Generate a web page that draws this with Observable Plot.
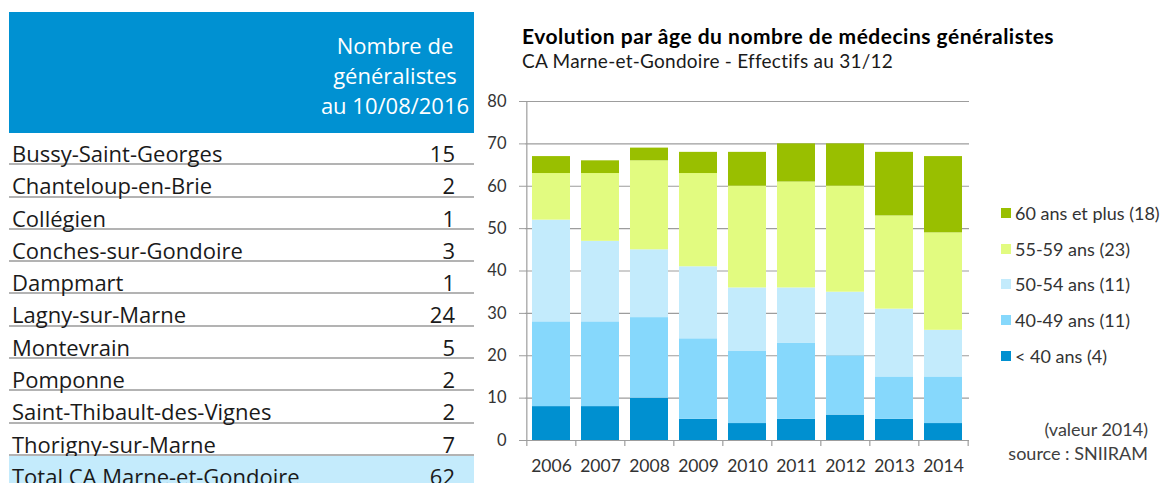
<!DOCTYPE html>
<html>
<head>
<meta charset="utf-8">
<script src="https://cdn.jsdelivr.net/npm/d3@7"></script>
<script src="https://cdn.jsdelivr.net/npm/@observablehq/plot@0.6"></script>
<style>
  html, body { margin:0; padding:0; background:#fff; }
  #page { position:relative; width:1163px; height:483px; overflow:hidden; background:#fff; }
  .abs { position:absolute; }
  #table { left:9px; top:12px; width:465px; font-family:"Open Sans", sans-serif; font-size:22px; color:#1a1a1a; }
  #thead { position:relative; height:121px; background:#0091d2; color:#fff; }
  #thead .txt { position:absolute; left:286px; width:200px; top:18px; text-align:center; line-height:30px; }
  .row { position:relative; height:32.3px; box-sizing:border-box; border-bottom:2px solid #b3b3b3; line-height:40px; white-space:nowrap; }
  .row .name { position:absolute; left:3px; top:0; }
  .row .num { position:absolute; right:19px; top:0; }
  .row.total { background:#c4ebfc; border-bottom:none; height:40px; }
  #title { left:522px; top:23.3px; font-family:Lato, sans-serif; font-weight:bold; font-size:21px; letter-spacing:0.5px; line-height:1.2; color:#000; white-space:nowrap; }
  #subtitle { left:522px; top:49.8px; font-family:Lato, sans-serif; font-size:19px; letter-spacing:0.25px; line-height:1.2; color:#1a1a1a; white-space:nowrap; }
  #chart { left:480px; top:80px; }
  #legend { left:1001px; top:195.5px; font-family:Lato, sans-serif; font-size:18px; color:#333; }
  #legend .item { height:35.6px; display:flex; align-items:center; white-space:nowrap; }
  #legend .sw { width:10px; height:10px; margin-right:4px; }
  #notes { right:15px; top:417px; font-family:Lato, sans-serif; font-size:18px; line-height:24px; color:#404040; text-align:right; white-space:nowrap; }
</style>
</head>
<body>
<div id="page">
  <div id="table" class="abs"></div>
  <div id="title" class="abs"></div>
  <div id="subtitle" class="abs"></div>
  <div id="chart" class="abs"></div>
  <div id="legend" class="abs"></div>
  <div id="notes" class="abs"></div>
</div>
<script>
// ---- Table data ----
const tableHeader = ["Nombre de", "généralistes", "au 10/08/2016"];
const communes = ["Bussy-Saint-Georges", "Chanteloup-en-Brie", "Collégien", "Conches-sur-Gondoire", "Dampmart", "Lagny-sur-Marne", "Montevrain", "Pomponne", "Saint-Thibault-des-Vignes", "Thorigny-sur-Marne"];
const counts = [15, 2, 1, 3, 1, 24, 5, 2, 2, 7];
const totalLabel = "Total CA Marne-et-Gondoire";

// ---- Chart data ----
const title = "Evolution par âge du nombre de médecins généralistes";
const subtitle = "CA Marne-et-Gondoire - Effectifs au 31/12";
const years = ["2006", "2007", "2008", "2009", "2010", "2011", "2012", "2013", "2014"];
const groups = ["< 40 ans", "40-49 ans", "50-54 ans", "55-59 ans", "60 ans et plus"];
const under40 = [8, 8, 10, 5, 4, 5, 6, 5, 4];
const age40to49 = [20, 20, 19, 19, 17, 18, 14, 10, 11];
const age50to54 = [24, 19, 16, 17, 15, 13, 15, 16, 11];
const age55to59 = [11, 16, 21, 22, 24, 25, 25, 22, 23];
const age60plus = [4, 3, 3, 5, 8, 9, 10, 15, 18];
const colors = ["#0090d0", "#86d8fc", "#c3ebfc", "#e2fb80", "#99bf00"];
const yTicks = [0, 10, 20, 30, 40, 50, 60, 70, 80];
const notes = ["(valeur 2014)", "source : SNIIRAM"];

// ---- Table ----
const table = document.getElementById("table");
const thead = document.createElement("div");
thead.id = "thead";
const ht = document.createElement("div");
ht.className = "txt";
ht.innerHTML = tableHeader.join("<br>");
thead.appendChild(ht);
table.appendChild(thead);
function addRow(name, num, cls) {
  const r = document.createElement("div");
  r.className = "row" + (cls ? " " + cls : "");
  const a = document.createElement("span"); a.className = "name"; a.textContent = name;
  const b = document.createElement("span"); b.className = "num"; b.textContent = num;
  r.appendChild(a); r.appendChild(b);
  table.appendChild(r);
}
communes.forEach((c, i) => addRow(c, counts[i]));
addRow(totalLabel, d3.sum(counts), "total");

// ---- Titles ----
document.getElementById("title").textContent = title;
document.getElementById("subtitle").textContent = subtitle;

// ---- Chart ----
const series = [under40, age40to49, age50to54, age55to59, age60plus];
const data = groups.flatMap((g, i) => years.map((y, j) => ({year: y, group: g, value: series[i][j]})));
const W = 683, H = 403, mL = 45, mR = 194, mT = 21, mB = 43;
const step = (W - mL - mR) / years.length;
const gridColor = "#9d9d9d";

const chart = Plot.plot({
  width: W, height: H,
  marginLeft: mL, marginRight: mR, marginTop: mT, marginBottom: mB,
  style: {fontFamily: "Lato, sans-serif", fontSize: "17.5px", color: "#404040", background: "transparent", overflow: "visible"},
  x: {type: "band", domain: years, paddingInner: 0.23, paddingOuter: 0.115, label: null},
  y: {domain: [0, 80], label: null},
  color: {domain: groups, range: colors},
  marks: [
    Plot.gridY(yTicks, {stroke: gridColor, strokeOpacity: 1, strokeWidth: 1.2}),
    Plot.barY(data, Plot.stackY({x: "year", y: "value", fill: "group", order: groups})),
    Plot.ruleX([years[0]], {dx: -step / 2, stroke: gridColor, strokeWidth: 1.2}),
    Plot.ruleX(years, {y1: 0, y2: 0, dx: -step / 2, insetBottom: -6, stroke: gridColor, strokeWidth: 1.2}),
    Plot.ruleX([years[years.length - 1]], {y1: 0, y2: 0, dx: step / 2, insetBottom: -6, stroke: gridColor, strokeWidth: 1.2}),
    Plot.axisY(yTicks, {tickSize: 6, tickPadding: 13, stroke: gridColor, fill: "#333", fontSize: 16.5}),
    Plot.axisX({tickSize: 0, tickPadding: 19, fill: "#333", fontSize: 17.5})
  ]
});
document.getElementById("chart").appendChild(chart);

// ---- Legend ----
const legend = document.getElementById("legend");
groups.map((g, i) => ({g, i})).reverse().forEach(({g, i}) => {
  const it = document.createElement("div"); it.className = "item";
  const sw = document.createElement("div"); sw.className = "sw"; sw.style.background = colors[i];
  const lb = document.createElement("span"); lb.textContent = `${g} (${series[i][series[i].length - 1]})`;
  it.appendChild(sw); it.appendChild(lb);
  legend.appendChild(it);
});

// ---- Notes ----
document.getElementById("notes").innerHTML = notes.join("<br>");
</script>
</body>
</html>
